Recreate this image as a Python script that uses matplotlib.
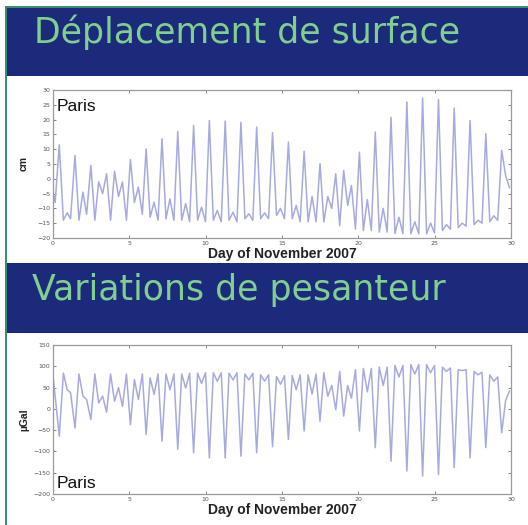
import matplotlib
matplotlib.use("Agg")
import matplotlib.pyplot as plt
from matplotlib.patches import Rectangle

# sample times (day of November 2007), shared by both records
day = [
    0.00, 0.14, 0.41, 0.68, 0.93, 1.15, 1.44, 1.70, 1.96, 2.20,
    2.48, 2.74, 2.99, 3.25, 3.51, 3.77, 4.03, 4.29, 4.55, 4.81,
    5.07, 5.33, 5.59, 5.85, 6.10, 6.36, 6.62, 6.88, 7.14, 7.40,
    7.66, 7.92, 8.17, 8.43, 8.69, 8.95, 9.21, 9.47, 9.73, 9.99,
    10.24, 10.50, 10.76, 11.02, 11.28, 11.53, 11.79, 12.05, 12.31, 12.57,
    12.83, 13.09, 13.34, 13.60, 13.86, 14.12, 14.38, 14.64, 14.90, 15.16,
    15.42, 15.67, 15.93, 16.19, 16.45, 16.71, 16.97, 17.23, 17.49, 17.74,
    18.00, 18.26, 18.52, 18.78, 19.04, 19.30, 19.55, 19.81, 20.07, 20.33,
    20.59, 20.85, 21.11, 21.37, 21.63, 21.89, 22.14, 22.40, 22.66, 22.92,
    23.18, 23.44, 23.70, 23.96, 24.21, 24.47, 24.73, 24.99, 25.25, 25.51,
    25.77, 26.03, 26.28, 26.54, 26.80, 27.06, 27.32, 27.58, 27.84, 28.10,
    28.35, 28.61, 28.87, 29.13, 29.39, 29.65, 29.90,
]

# vertical surface displacement at Paris (cm)
displacement_cm = [
    -4, -8, 11.5, -14, -11.5, -13.5, 7.9, -14, -4.5, -12,
    4.5, -14, -1, -5, 1.7, -14, 2.5, -6, -1.1, -14,
    6.5, -8, -2.8, -12, 10.1, -13, -7.9, -14, 13.5, -13.5,
    -6.8, -14, 16, -14, -8.4, -14.5, 18, -14, -9.6, -14.5,
    19.7, -14, -10.7, -14.5, 19.5, -14, -11.3, -14.5, 19.1, -13.5,
    -11.8, -14, 17.5, -13.5, -11.5, -13.5, 15.6, -12.4, -10, -13.5,
    12.4, -13.5, -9, -14.5, 9.3, -14.5, -6, -14.5, 5.1, -14.6,
    -6, -10, 1.7, -15.8, 2.8, -9, -2.3, -17, 9, -17.5,
    -7, -17.5, 15.8, -18, -10, -18, 20.8, -18.5, -13, -18.5,
    25.9, -18.6, -14.5, -18.6, 27.3, -18.6, -15, -18.3, 26.8, -17.5,
    -15.5, -17, 23.9, -16.5, -15, -16, 19.7, -15.5, -14, -15,
    15.2, -14.5, -12.5, -14, 9.6, 1, -3,
]

# gravity variations at Paris (microGal)
gravity_ugal = [
    76, 30, -64, 84, 45, 38, -45, 82, 30, 22,
    -25, 82, 14, 30, -8, 82, 18, 50, 6, 82,
    -37, 69, 22, 82, -60, 73, 34, 82, -76, 82,
    45, 82, -95, 82, 49, 84, -103, 84, 60, 85,
    -115, 85, 65, 85, -115, 84, 68, 85, -111, 82,
    68, 84, -103, 80, 65, 80, -89, 76, 58, 78,
    -72, 78, 45, 80, -52, 80, 35, 82, -29, 85,
    30, 55, -2, 88, -17, 55, 25, 92, -52, 95,
    40, 95, -91, 98, 55, 98, -123, 102, 75, 102,
    -146, 104, 82, 104, -158, 104, 85, 102, -154, 98,
    88, 96, -138, 92, 90, 92, -115, 88, 80, 86,
    -91, 80, 65, 75, -56, 20, 42,
]

x_ticks = [0, 5, 10, 15, 20, 25, 30]
cm_ticks = [-20, -15, -10, -5, 0, 5, 10, 15, 20, 25, 30]
ugal_ticks = [-200, -150, -100, -50, 0, 50, 100, 150]

navy = "#1c2a7c"
title_green = "#80cf8e"
line_col = "#a6aade"
sans = ["Liberation Sans", "DejaVu Sans"]

fig = plt.figure(figsize=(5.28, 5.25), dpi=100)
fig.patch.set_facecolor("white")

# slide banners and green frame
fig.patches.append(Rectangle((0.013, 0.855), 0.99, 0.130, transform=fig.transFigure,
                             facecolor=navy, edgecolor="none", zorder=0))
fig.patches.append(Rectangle((0.013, 0.366), 0.99, 0.133, transform=fig.transFigure,
                             facecolor=navy, edgecolor="none", zorder=0))
fig.patches.append(Rectangle((0.009, 0.0), 0.004, 0.988, transform=fig.transFigure,
                             facecolor="#3a8f6a", edgecolor="none", zorder=1))
fig.patches.append(Rectangle((0.009, 0.984), 0.991, 0.004, transform=fig.transFigure,
                             facecolor="#3a8f6a", edgecolor="none", zorder=1))

fig.text(0.064, 0.918, "Déplacement de surface", color=title_green,
         fontsize=25, va="baseline", ha="left")
fig.text(0.060, 0.428, "Variations de pesanteur", color=title_green,
         fontsize=25, va="baseline", ha="left")


def style_axes(ax, yticks):
    ax.set_xlim(0, 30)
    ax.set_xticks(x_ticks)
    ax.set_yticks(yticks)
    ax.set_ylim(yticks[0], yticks[-1])
    ax.tick_params(direction="in", length=2.5, width=0.5, labelsize=4.5,
                   colors="#555555", top=True, right=True, pad=2)
    for s in ax.spines.values():
        s.set_color("#9a9a9a")
        s.set_linewidth(0.9)
    ax.set_xlabel("Day of November 2007", fontsize=10, fontweight="bold",
                  family=sans, color="#222222", labelpad=1)


ax1 = fig.add_axes([0.1004, 0.5467, 0.8674, 0.2819])
ax1.plot(day, displacement_cm, color=line_col, lw=1.1, solid_joinstyle="round")
style_axes(ax1, cm_ticks)
ax1.set_ylabel("cm", fontsize=7.5, fontweight="bold", family=sans, color="#222222", labelpad=6)
ax1.text(0.008, 0.94, "Paris", transform=ax1.transAxes, fontsize=12.5,
         family=sans, va="top", ha="left", color="#111111")

ax2 = fig.add_axes([0.1004, 0.0590, 0.8674, 0.2838])
ax2.plot(day, gravity_ugal, color=line_col, lw=1.1, solid_joinstyle="round")
style_axes(ax2, ugal_ticks)
ax2.set_ylabel("µGal", fontsize=7.5, fontweight="bold", family=sans, color="#222222", labelpad=3)
ax2.text(0.008, 0.02, "Paris", transform=ax2.transAxes, fontsize=12.5,
         family=sans, va="bottom", ha="left", color="#111111")

fig.savefig("out.png", dpi=100)
